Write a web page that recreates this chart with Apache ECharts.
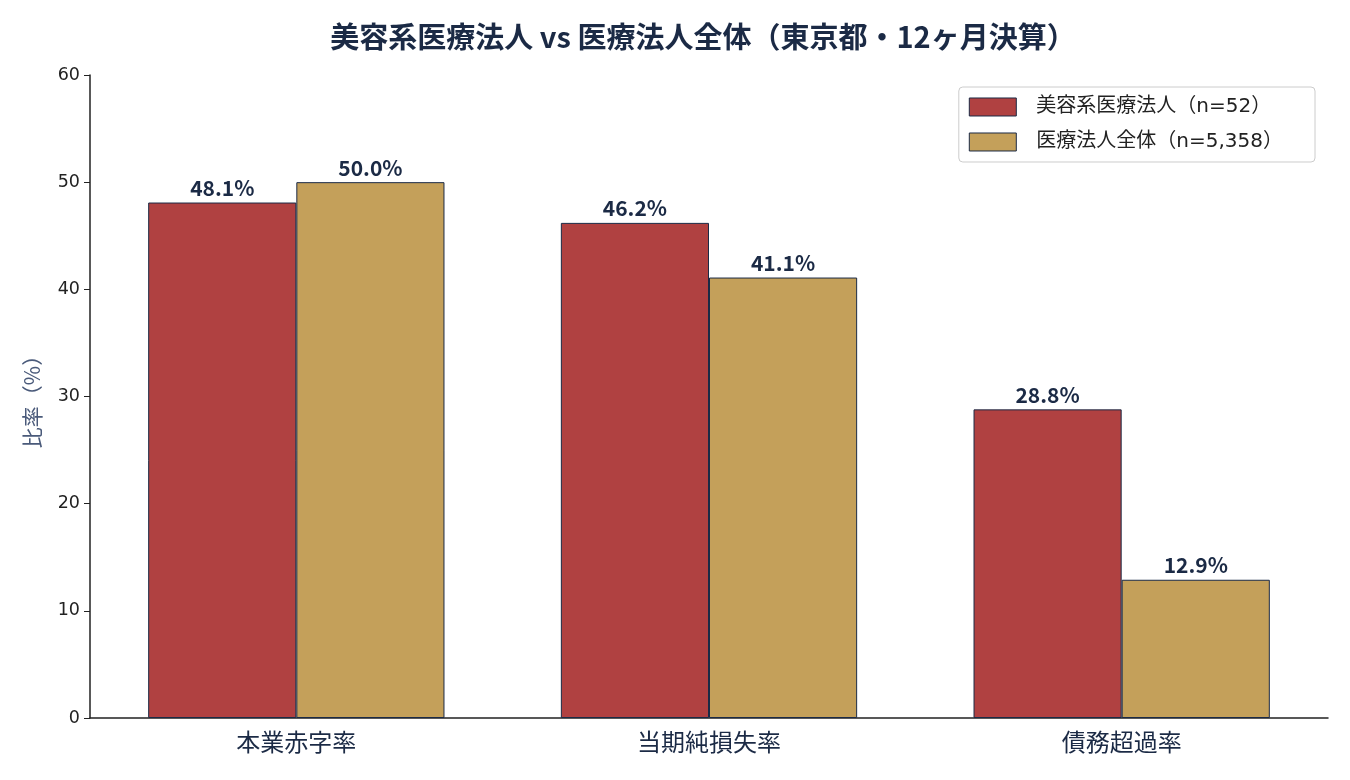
<!DOCTYPE html>
<html>
<head>
<meta charset="utf-8">
<script src="https://cdn.jsdelivr.net/npm/echarts@6/dist/echarts.min.js"></script>
<style>
  html, body { margin: 0; padding: 0; background: #fff; }
  #chart { width: 1350px; height: 780px; }
</style>
</head>
<body>
<div id="chart"></div>
<script>
const categories = ["本業赤字率", "当期純損失率", "債務超過率"];
const beautyValues = [48.1, 46.2, 28.8];
const allValues = [50.0, 41.1, 12.9];
const seriesNames = ["美容系医療法人（n=52）", "医療法人全体（n=5,358）"];
const yTicks = { min: 0, max: 60, interval: 10 };

const FONT = "'Noto Sans CJK JP', 'Noto Sans', sans-serif";
const MIXED = "'DejaVu Sans', 'Noto Sans CJK JP', sans-serif";
const NAVY = "#1b2a45";

const chart = echarts.init(document.getElementById("chart"));

function barSeries(name, values, color) {
  return {
    name,
    type: "bar",
    data: values,
    barWidth: "35.9%",
    barGap: "0%",
    itemStyle: { color, borderColor: NAVY, borderWidth: 1 },
    label: {
      show: true,
      position: "top",
      distance: 4,
      formatter: (p) => p.value.toFixed(1) + "%",
      fontFamily: FONT,
      fontWeight: "bold",
      fontSize: 21,
      color: NAVY,
    },
  };
}

chart.setOption({
  backgroundColor: "#fff",
  animation: false,
  textStyle: { fontFamily: FONT },
  title: {
    text: "美容系医療法人 vs 医療法人全体（東京都・12ヶ月決算）",
    left: 698,
    top: 17,
    textAlign: "center",
    textStyle: { fontFamily: FONT, fontWeight: "bold", fontSize: 29, color: NAVY },
  },
  legend: {
    data: seriesNames,
    orient: "vertical",
    right: 35,
    top: 87,
    icon: "rect",
    itemWidth: 47,
    itemHeight: 18,
    itemGap: 15,
    padding: [10, 32, 10, 10],
    borderColor: "#cccccc",
    borderWidth: 1,
    borderRadius: 4,
    itemStyle: { borderColor: NAVY, borderWidth: 1 },
    textStyle: { fontFamily: MIXED, fontSize: 20, color: "#222", padding: [0, 0, 0, 15] },
  },
  grid: { left: 90, right: 22, top: 75, bottom: 62 },
  xAxis: {
    type: "category",
    data: categories,
    axisLine: { lineStyle: { color: "#222", width: 1.5 } },
    axisTick: { show: false },
    axisLabel: { fontFamily: FONT, fontSize: 24, color: NAVY, margin: 12 },
  },
  yAxis: {
    type: "value",
    min: yTicks.min,
    max: yTicks.max,
    interval: yTicks.interval,
    name: "比率（%）",
    nameLocation: "middle",
    nameGap: 47,
    nameTextStyle: { fontFamily: FONT, fontSize: 21, color: "#4a5a7a" },
    axisLine: { show: true, lineStyle: { color: "#222", width: 1.5 } },
    axisTick: { show: true, length: 6, lineStyle: { color: "#222" } },
    axisLabel: { fontFamily: MIXED, fontSize: 17.5, color: "#222", margin: 10 },
    splitLine: { show: false },
  },
  series: [
    barSeries(seriesNames[0], beautyValues, "#b04141"),
    barSeries(seriesNames[1], allValues, "#c4a05a"),
  ],
});

window.addEventListener("resize", () => chart.resize());
</script>
</body>
</html>
